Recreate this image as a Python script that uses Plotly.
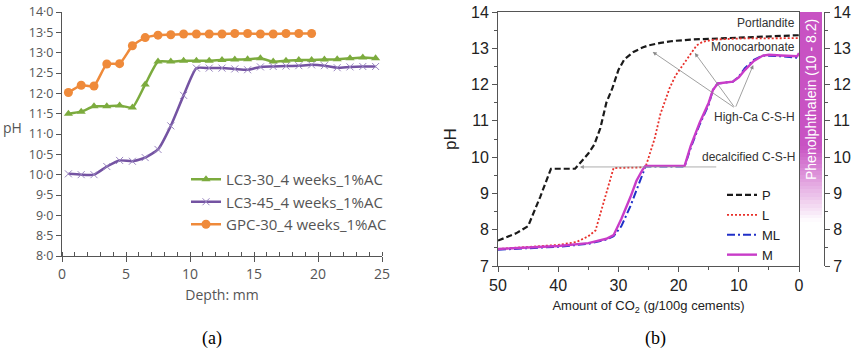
import plotly.graph_objects as go

# ---------------- Panel (a) data ----------------
depth = [0.5, 1.5, 2.5, 3.5, 4.5, 5.5, 6.5, 7.5, 8.5, 9.5, 10.5, 11.5, 12.5,
         13.5, 14.5, 15.5, 16.5, 17.5, 18.5, 19.5, 20.5, 21.5, 22.5, 23.5, 24.5]
lc3_30 = [11.50, 11.55, 11.68, 11.68, 11.70, 11.65, 12.22, 12.78, 12.78, 12.80, 12.80, 12.80, 12.82,
          12.83, 12.84, 12.86, 12.78, 12.80, 12.82, 12.82, 12.83, 12.84, 12.86, 12.88, 12.86]
lc3_45 = [10.02, 10.00, 10.00, 10.20, 10.35, 10.33, 10.42, 10.62, 11.20, 11.95, 12.62, 12.62, 12.62,
          12.60, 12.58, 12.65, 12.66, 12.67, 12.68, 12.70, 12.68, 12.63, 12.65, 12.66, 12.66]
gpc_depth = depth[:20]
gpc_30 = [12.02, 12.20, 12.18, 12.72, 12.73, 13.17, 13.37, 13.43, 13.44, 13.46, 13.46, 13.46, 13.46,
          13.47, 13.47, 13.46, 13.46, 13.47, 13.47, 13.47]
a_ytick_vals = [8.0, 8.5, 9.0, 9.5, 10.0, 10.5, 11.0, 11.5, 12.0, 12.5, 13.0, 13.5, 14.0]
a_ytick_text = ["8·0", "8·5", "9·0", "9·5", "10·0", "10·5", "11·0", "11·5", "12·0", "12·5",
                "13·0", "13·5", "14·0"]

# ---------------- Panel (b) data ----------------
p_x = [50, 47, 45, 43, 41.2, 37.2, 35, 34, 33, 32, 31, 30, 29, 27.5, 26, 25, 23, 21, 18, 15, 10, 5, 0]
p_y = [7.70, 7.90, 8.10, 8.90, 9.68, 9.68, 10.10, 10.35, 10.80, 11.50, 11.90, 12.40, 12.70, 12.90,
       13.02, 13.08, 13.15, 13.20, 13.24, 13.26, 13.29, 13.31, 13.36]
l_x = [50, 45, 40, 37, 35, 33.8, 30.8, 25.5, 24, 23, 21.5, 20.5, 19, 18, 17, 16, 14, 10, 5, 0]
l_y = [7.47, 7.52, 7.58, 7.66, 7.82, 7.98, 9.70, 9.72, 10.50, 11.20, 11.90, 12.25, 12.60, 12.85,
       13.08, 13.18, 13.24, 13.27, 13.28, 13.28]
m_x = [50, 45, 40, 35, 32, 30.8, 29.5, 28, 27, 26, 25.5, 19, 18, 16.5, 15, 14.3, 13.5, 11, 10, 9,
       7.5, 6, 5, 3, 1, 0.3, 0]
m_y = [7.47, 7.50, 7.55, 7.63, 7.75, 7.85, 8.30, 8.90, 9.35, 9.65, 9.76, 9.76, 10.30, 10.95, 11.50,
       11.85, 12.03, 12.08, 12.20, 12.40, 12.65, 12.80, 12.82, 12.80, 12.78, 12.78, 12.87]
ml_x = [50, 45, 40, 35, 32, 30.8, 29.5, 28, 27, 26, 25.5, 19, 18, 16.5, 15, 14.3, 13.5, 11, 10, 9,
        7.5, 6, 5, 3, 1, 0]
ml_y = [7.45, 7.48, 7.53, 7.61, 7.73, 7.82, 8.10, 8.65, 9.10, 9.50, 9.74, 9.74, 10.25, 10.90, 11.45,
        11.85, 12.03, 12.08, 12.22, 12.45, 12.68, 12.80, 12.80, 12.78, 12.75, 12.73]
phenol_edges = [8.2 + 0.1 * i for i in range(59)]
phenol_z = [[(phenol_edges[i] + phenol_edges[i + 1]) / 2] for i in range(58)]

W, H = 856, 355
def px(x): return x / W
def py(y): return 1 - y / H

fig = go.Figure()

# Panel (a)
fig.add_trace(go.Scatter(x=depth, y=lc3_30, name="LC3-30_4 weeks_1%AC", mode="lines+markers",
                         line=dict(color="#7cab3e", width=2.5, shape="spline", smoothing=0.5),
                         marker=dict(symbol="triangle-up", size=8, color="#7cab3e"),
                         xaxis="x", yaxis="y", legend="legend", legendgroup="a1"))
fig.add_trace(go.Scatter(x=depth, y=lc3_45, name="LC3-45_4 weeks_1%AC", mode="lines+markers",
                         line=dict(color="#7453a2", width=2.5, shape="spline", smoothing=0.5),
                         marker=dict(symbol="x-thin", size=7, line=dict(color="#9a86c0", width=1)),
                         xaxis="x", yaxis="y", legend="legend", legendgroup="a2"))
fig.add_trace(go.Scatter(x=gpc_depth, y=gpc_30, name="GPC-30_4 weeks_1%AC", mode="lines+markers",
                         line=dict(color="#ef8a3a", width=2.5, shape="spline", smoothing=0.5),
                         marker=dict(symbol="circle", size=9, color="#ef8a3a"),
                         xaxis="x", yaxis="y", legend="legend", legendgroup="a3"))

# Panel (b)
fig.add_trace(go.Scatter(x=p_x, y=p_y, name="P", mode="lines",
                         line=dict(color="#1a1a1a", width=2.2, dash="6px,3px"),
                         xaxis="x2", yaxis="y2", legend="legend2"))
fig.add_trace(go.Scatter(x=l_x, y=l_y, name="L", mode="lines",
                         line=dict(color="#e8302a", width=1.8, dash="2px,2px"),
                         xaxis="x2", yaxis="y2", legend="legend2"))
fig.add_trace(go.Scatter(x=ml_x, y=ml_y, name="ML", mode="lines",
                         line=dict(color="#2030c8", width=2, dash="8px,3px,2px,3px"),
                         xaxis="x2", yaxis="y2", legend="legend2"))
fig.add_trace(go.Scatter(x=m_x, y=m_y, name="M", mode="lines",
                         line=dict(color="#c83cc8", width=2.4),
                         xaxis="x2", yaxis="y2", legend="legend2"))

fig.add_trace(go.Heatmap(x=[0, 1], y=phenol_edges, z=phenol_z, zmin=8.2, zmax=10.3,
                         colorscale=[[0, "#ffffff"], [1, "#c852c3"]], showscale=False,
                         hoverinfo="skip", xaxis="x3", yaxis="y3"))

grey = "#555555"
fa = dict(family="Open Sans", size=12.5, color="#555555")
fb = dict(family="Liberation Sans, Arial", size=16, color="#222222")

fig.update_layout(
    width=W, height=H, margin=dict(l=0, r=0, t=0, b=0, autoexpand=False),
    paper_bgcolor="white", plot_bgcolor="white", showlegend=True,
    xaxis=dict(domain=[px(62), px(382)], range=[0, 25], anchor="y", automargin=False,
               tickvals=[0, 5, 10, 15, 20, 25], ticks="outside", ticklen=5, tickcolor=grey,
               showline=True, linecolor=grey, linewidth=1, showgrid=False, zeroline=False,
               tickfont=dict(family="Open Sans", size=14, color="#555555"),
               minor=dict(dtick=1, ticks="inside", ticklen=4, tickcolor=grey),
               title=dict(text="Depth: mm", font=dict(family="Open Sans", size=14, color="#555555"), standoff=8)),
    yaxis=dict(domain=[py(256), py(12)], range=[8, 14], anchor="x", automargin=False,
               tickvals=a_ytick_vals, ticktext=a_ytick_text, ticks="outside", ticklen=5,
               tickcolor=grey, showline=True, linecolor=grey, linewidth=1, showgrid=False,
               zeroline=False, tickfont=fa),
    xaxis2=dict(domain=[px(498), px(799)], range=[50, 0], anchor="y2", automargin=False,
                tickvals=[50, 40, 30, 20, 10, 0], ticks="outside", ticklen=5, tickcolor=grey,
                showline=True, mirror=True, linecolor=grey, linewidth=1, showgrid=False,
                zeroline=False, tickfont=fb,
                minor=dict(dtick=5, ticks="outside", ticklen=3, tickcolor=grey),
                title=dict(text="Amount of CO<sub>2</sub> (g/100g cements)",
                           font=dict(family="Liberation Sans, Arial", size=13, color="#222222"), standoff=7)),
    yaxis2=dict(domain=[py(266), py(12)], range=[7, 14], anchor="x2", automargin=False,
                dtick=1, ticks="outside", ticklen=5, tickcolor=grey,
                showline=True, mirror=True, linecolor=grey, linewidth=1, showgrid=False,
                zeroline=False, tickfont=fb,
                minor=dict(dtick=0.5, ticks="outside", ticklen=3, tickcolor=grey),
                title=dict(text="pH", font=dict(family="Liberation Sans, Arial", size=17, color="#222222"), standoff=10)),
    xaxis3=dict(domain=[px(800), px(822)], range=[0, 1], anchor="y3", visible=False,
                fixedrange=True, automargin=False),
    yaxis3=dict(domain=[py(266), py(12)], range=[7, 14], anchor="free", position=px(824),
                side="right", dtick=1, ticks="outside", ticklen=5, tickcolor=grey, automargin=False,
                showline=True, linecolor=grey, linewidth=1, showgrid=False, zeroline=False,
                tickfont=fb, minor=dict(dtick=0.5, ticks="outside", ticklen=3, tickcolor=grey)),
    legend=dict(x=px(186), y=py(163), xanchor="left", yanchor="top", bgcolor="rgba(0,0,0,0)",
                font=dict(family="Open Sans", size=15, color="#555555"), itemwidth=30,
                tracegroupgap=0),
    legend2=dict(x=px(722), y=py(180), xanchor="left", yanchor="top", bgcolor="rgba(0,0,0,0)",
                 font=dict(family="Liberation Sans, Arial", size=13, color="#222222"), itemwidth=30,
                 tracegroupgap=0),
)

ann = []
ann.append(dict(text="pH", x=px(12), y=py(128), xref="paper", yref="paper", showarrow=False,
                xanchor="center", yanchor="middle",
                font=dict(family="Open Sans", size=14, color="#555555")))
ann.append(dict(text="(a)", x=px(212), y=py(338), xref="paper", yref="paper", showarrow=False,
                xanchor="center", yanchor="middle",
                font=dict(family="Liberation Serif", size=18, color="#000000")))
ann.append(dict(text="(b)", x=px(655), y=py(338), xref="paper", yref="paper", showarrow=False,
                xanchor="center", yanchor="middle",
                font=dict(family="Liberation Serif", size=18, color="#000000")))
lab_font = dict(family="Liberation Sans, Arial", size=12, color="#333333")
for t, yy in [("Portlandite", 23), ("Monocarbonate", 47), ("High-Ca C-S-H", 117), ("decalcified C-S-H", 157)]:
    ann.append(dict(text=t, x=px(797), y=py(yy), xref="paper", yref="paper", xanchor="right",
                    yanchor="middle", showarrow=False, font=lab_font))
ann.append(dict(text="Phenolphthalein (10 - 8.2)", x=px(811), y=py(100), xref="paper", yref="paper",
                textangle=-90, showarrow=False, xanchor="center", yanchor="middle",
                font=dict(family="Liberation Sans, Arial", size=14, color="#ffffff")))
arrow_tail = (10.6, 11.35)
for hx, hy in [(24.3, 12.9), (17.3, 12.87), (7.6, 12.54)]:
    ann.append(dict(x=hx, y=hy, ax=arrow_tail[0], ay=arrow_tail[1], xref="x2", yref="y2",
                    axref="x2", ayref="y2", text="", showarrow=True, arrowhead=2, arrowsize=1,
                    arrowwidth=0.8, arrowcolor="#888888"))
ann.append(dict(x=36.4, y=9.73, ax=13.5, ay=9.73, xref="x2", yref="y2", axref="x2", ayref="y2",
                text="", showarrow=True, arrowhead=2, arrowsize=1, arrowwidth=0.8,
                arrowcolor="#999999"))
fig.update_layout(annotations=ann)

fig.write_html("out.html", config={"displayModeBar": False},
               post_script="document.body.style.margin='0px';document.body.style.overflow='hidden';")
